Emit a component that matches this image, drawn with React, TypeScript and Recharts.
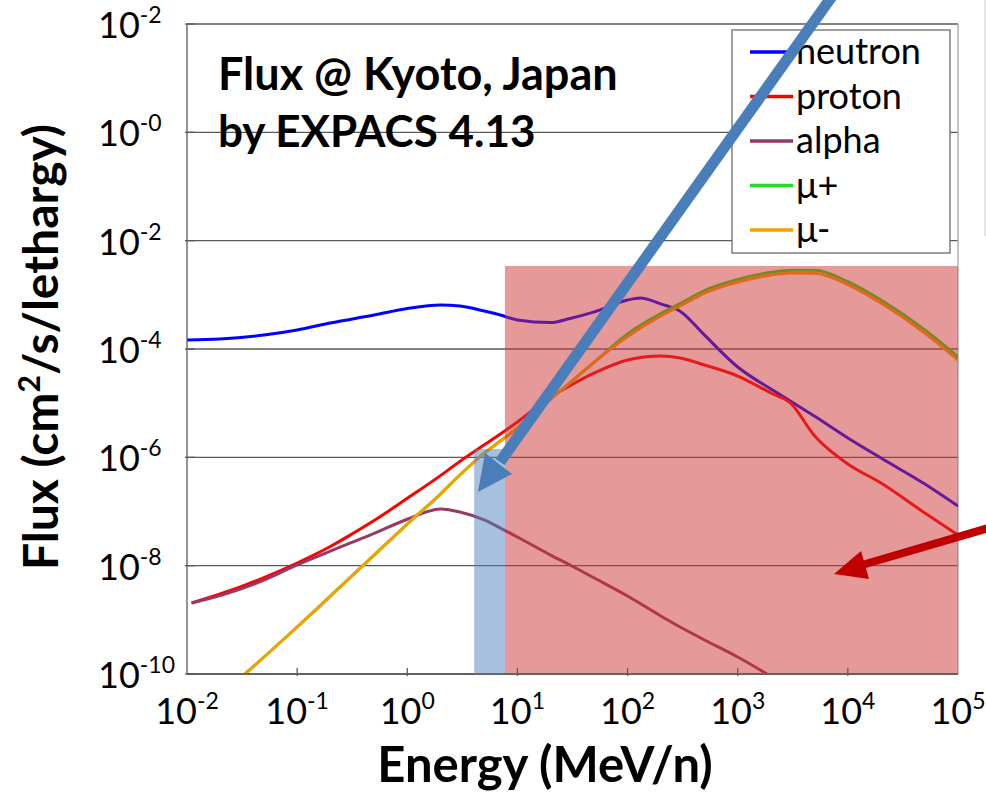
import React from 'react';
import { LineChart, Line, XAxis, YAxis, CartesianGrid, ReferenceArea, ReferenceLine } from 'recharts';

// tick values and their exponent labels (as printed on the figure)
const X_TICKS = [0.01, 0.1, 1, 10, 100, 1000, 10000, 100000];
const X_TICK_EXP = ['-2', '-1', '0', '1', '2', '3', '4', '5'];
const Y_TICKS = [1e-10, 1e-8, 1e-6, 1e-4, 1e-2, 1, 100];
const Y_TICK_EXP = ['-10', '-8', '-6', '-4', '-2', '-0', '-2'];

// Energy (MeV/n) / flux values
const NEUTRON_E = [0.01, 0.02, 0.05, 0.1, 0.2, 0.5, 1, 2, 3, 5, 7, 10, 20, 30, 50, 100, 130, 200, 300, 500, 1000, 2000, 3000, 5000, 1e4, 2e4, 5e4, 1e5];
const NEUTRON_F = [1.47e-4, 1.53e-4, 1.81e-4, 2.24e-4, 3.02e-4, 4.24e-4, 5.58e-4, 6.49e-4, 6.22e-4, 5.02e-4, 4.24e-4, 3.43e-4, 3.08e-4, 3.66e-4, 4.84e-4, 8.0e-4, 8.7e-4, 6.8e-4, 5.0e-4, 1.8e-4, 4.65e-5, 1.82e-5, 1.1e-5, 5.71e-6, 2.28e-6, 9.7e-7, 3.21e-7, 1.26e-7];

const PROTON_E = [0.011, 0.02, 0.05, 0.1, 0.2, 0.3, 0.5, 1, 2, 3, 5, 7, 10, 20, 30, 50, 100, 200, 300, 500, 1000, 2000, 3000, 5000, 1e4, 2e4, 5e4, 1e5];
const PROTON_F = [2.05e-9, 3.0e-9, 6.04e-9, 1.12e-8, 2.26e-8, 3.63e-8, 6.8e-8, 1.75e-7, 4.6e-7, 8.4e-7, 1.7e-6, 2.7e-6, 4.5e-6, 1.3e-5, 2.1e-5, 3.61e-5, 6.27e-5, 7.43e-5, 6.82e-5, 5.06e-5, 3.17e-5, 1.54e-5, 1.01e-5, 2.48e-6, 7.54e-7, 3.36e-7, 9.38e-8, 3.68e-8];

const ALPHA_E = [0.011, 0.02, 0.05, 0.1, 0.2, 0.5, 1, 2, 3, 5, 7, 10, 20, 30, 50, 100, 200, 300, 500, 1000, 1850];
const ALPHA_F = [2.05e-9, 2.8e-9, 5.4e-9, 1.03e-8, 1.85e-8, 3.94e-8, 7.2e-8, 1.11e-7, 9.8e-8, 6.97e-8, 4.95e-8, 3.38e-8, 1.57e-8, 1.03e-8, 5.91e-9, 2.75e-9, 1.18e-9, 7.38e-10, 4.25e-10, 2.06e-10, 1e-10];

const MU_E = [0.0336, 0.05, 0.1, 0.2, 0.5, 1, 2, 3, 5, 7, 10, 20, 30, 50, 100, 200, 300, 500, 1000, 2000, 3000, 5000, 1e4, 2e4, 5e4, 1e5];
const MU_PLUS_F = [1e-10, 2.06e-10, 7.38e-10, 2.75e-9, 1.57e-8, 5.87e-8, 2.1e-7, 4.72e-7, 1.2e-6, 2.0e-6, 3.48e-6, 1.19e-5, 2.36e-5, 5.75e-5, 1.9e-4, 4.5e-4, 6.9e-4, 1.2e-3, 1.92e-3, 2.6e-3, 2.85e-3, 2.85e-3, 1.75e-3, 8.0e-4, 2.25e-4, 7.2e-5];
const MU_MINUS_F = [1e-10, 2.06e-10, 7.38e-10, 2.75e-9, 1.57e-8, 5.87e-8, 2.1e-7, 4.72e-7, 1.2e-6, 2.0e-6, 3.48e-6, 1.19e-5, 2.36e-5, 5.75e-5, 1.7e-4, 4.06e-4, 6.22e-4, 1.08e-3, 1.73e-3, 2.32e-3, 2.53e-3, 2.5e-3, 1.55e-3, 7.06e-4, 1.97e-4, 6.27e-5];

// shaded energy bands (MeV/n) and their flux tops
const BLUE_BAND = [4.05, 7.7];
const BLUE_TOP = 1.42e-6;
const RED_BAND = [7.7, 1e5];
const RED_TOP = 3.4e-3;

const toPoints = (es: number[], fs: number[]) => es.map((e, i) => ({ e, f: fs[i] }));

const SERIES = [
  { name: 'neutron', color: '#0000FF', data: toPoints(NEUTRON_E, NEUTRON_F) },
  { name: 'proton', color: '#FF0000', data: toPoints(PROTON_E, PROTON_F) },
  { name: 'alpha', color: '#933B65', data: toPoints(ALPHA_E, ALPHA_F) },
  { name: 'μ+', color: '#22DD22', data: toPoints(MU_E, MU_PLUS_F) },
  { name: 'μ-', color: '#F5A000', data: toPoints(MU_E, MU_MINUS_F) },
];

const FONT = 'Lato, "Open Sans", sans-serif';
const AXIS_COLOR = '#595959';
const W = 986;
const H = 793;

const XTick = (props: any) => {
  const { x, y, payload } = props;
  const i = X_TICKS.indexOf(payload.value);
  const edge = i === 0 || i === X_TICKS.length - 1;
  return (
    <g>
      {!edge && <line x1={x} y1={y} x2={x} y2={y - 8} stroke={AXIS_COLOR} strokeWidth={1.3} />}
      <text x={x} y={y + 48} textAnchor="middle" fontFamily={FONT} fontSize={36} fill="#000">
        10<tspan dy={-15} fontSize={23}>{X_TICK_EXP[i]}</tspan>
      </text>
    </g>
  );
};

const YTick = (props: any) => {
  const { x, y, payload } = props;
  const i = Y_TICKS.indexOf(payload.value);
  return (
    <g>
      <line x1={x} y1={y} x2={x + 10} y2={y} stroke={AXIS_COLOR} strokeWidth={1.3} />
      <text x={x - 87} y={y + 14} textAnchor="start" fontFamily={FONT} fontSize={36} fill="#000">
        10<tspan dy={-15} fontSize={23}>{Y_TICK_EXP[i]}</tspan>
      </text>
    </g>
  );
};

const Overlay = () => (
  <svg width={W} height={H} style={{ position: 'absolute', left: 0, top: 0, pointerEvents: 'none' }}>
    <line x1={985} y1={0} x2={985} y2={236} stroke="#dcdcdc" strokeWidth={1.5} />
    {/* titles */}
    <text x={218} y={90} fontFamily={FONT} fontWeight="bold" fontSize={45} fill="#000">Flux @ Kyoto, Japan</text>
    <text x={218} y={147} fontFamily={FONT} fontWeight="bold" fontSize={44} fill="#000">by EXPACS 4.13</text>
    <text x={545} y={782} textAnchor="middle" fontFamily={FONT} fontWeight="bold" fontSize={49} fill="#000">Energy (MeV/n)</text>
    <text transform="translate(58,347) rotate(-90)" textAnchor="middle" fontFamily={FONT} fontWeight="bold" fontSize={48} fill="#000">
      Flux (cm<tspan dy={-18} fontSize={30}>2</tspan><tspan dy={18}>/s/lethargy)</tspan>
    </text>
    {/* legend */}
    <rect x={732} y={30} width={218} height={223} fill="#fff" stroke="#6b6b6b" strokeWidth={1.3} />
    {SERIES.map((s, i) => {
      const cy = 52 + i * 44.5;
      return (
        <g key={s.name}>
          <line x1={750} y1={cy} x2={793} y2={cy} stroke={s.color} strokeWidth={3.5} />
          <text x={796} y={cy + 12} fontFamily={FONT} fontSize={36} fill="#000">{s.name}</text>
        </g>
      );
    })}
    {/* blue arrow */}
    <line x1={833} y1={-5} x2={500} y2={462} stroke="#4A7EBB" strokeWidth={11} />
    <polygon points="478,492 512,474 485,453" fill="#4A7EBB" />
    {/* red arrow */}
    <line x1={992} y1={527} x2={862} y2={565} stroke="#C00000" strokeWidth={8} />
    <polygon points="834,574 869,579 861,551" fill="#C00000" />
  </svg>
);

// translucent bands drawn in a second chart on top so the curves show through tinted
const Bands = () => (
  <LineChart
    width={W}
    height={H}
    margin={{ top: 24, right: 28, left: 187, bottom: 119 }}
    style={{ position: 'absolute', left: 0, top: 0 }}
  >
    <XAxis hide type="number" dataKey="e" scale="log" domain={[0.01, 1e5]} allowDataOverflow />
    <YAxis hide type="number" dataKey="f" scale="log" domain={[1e-10, 100]} allowDataOverflow />
    <ReferenceArea x1={BLUE_BAND[0]} x2={BLUE_BAND[1]} y1={1e-10} y2={BLUE_TOP} fill="#4F81BD" fillOpacity={0.5} stroke="none" ifOverflow="visible" />
    <ReferenceArea x1={RED_BAND[0]} x2={RED_BAND[1]} y1={1e-10} y2={RED_TOP} fill="#CC3333" fillOpacity={0.5} stroke="none" ifOverflow="visible" />
  </LineChart>
);

export default function App() {
  return (
    <div style={{ position: 'absolute', left: 0, top: 0, width: W, height: H, background: '#fff' }}>
      <LineChart width={W} height={H} margin={{ top: 24, right: 28, left: 0, bottom: 0 }}>
        <CartesianGrid vertical={false} stroke={AXIS_COLOR} strokeWidth={1.3} />
        <XAxis
          type="number"
          dataKey="e"
          scale="log"
          domain={[0.01, 1e5]}
          ticks={X_TICKS}
          interval={0}
          allowDataOverflow
          tick={(p: any) => <XTick {...p} />}
          tickLine={false}
          tickSize={0}
          height={119}
          stroke={AXIS_COLOR}
          strokeWidth={1.3}
        />
        <YAxis
          type="number"
          dataKey="f"
          scale="log"
          domain={[1e-10, 100]}
          ticks={Y_TICKS}
          interval={0}
          allowDataOverflow
          tick={(p: any) => <YTick {...p} />}
          tickLine={false}
          tickSize={0}
          width={187}
          stroke={AXIS_COLOR}
          strokeWidth={1.3}
        />
        <ReferenceLine x={1e5} stroke="#a6a6a6" strokeWidth={1.3} />
        {SERIES.map((s) => (
          <Line
            key={s.name}
            data={s.data}
            dataKey="f"
            name={s.name}
            type="monotone"
            stroke={s.color}
            strokeWidth={3}
            dot={false}
            isAnimationActive={false}
          />
        ))}
      </LineChart>
      <Bands />
      <Overlay />
    </div>
  );
}
